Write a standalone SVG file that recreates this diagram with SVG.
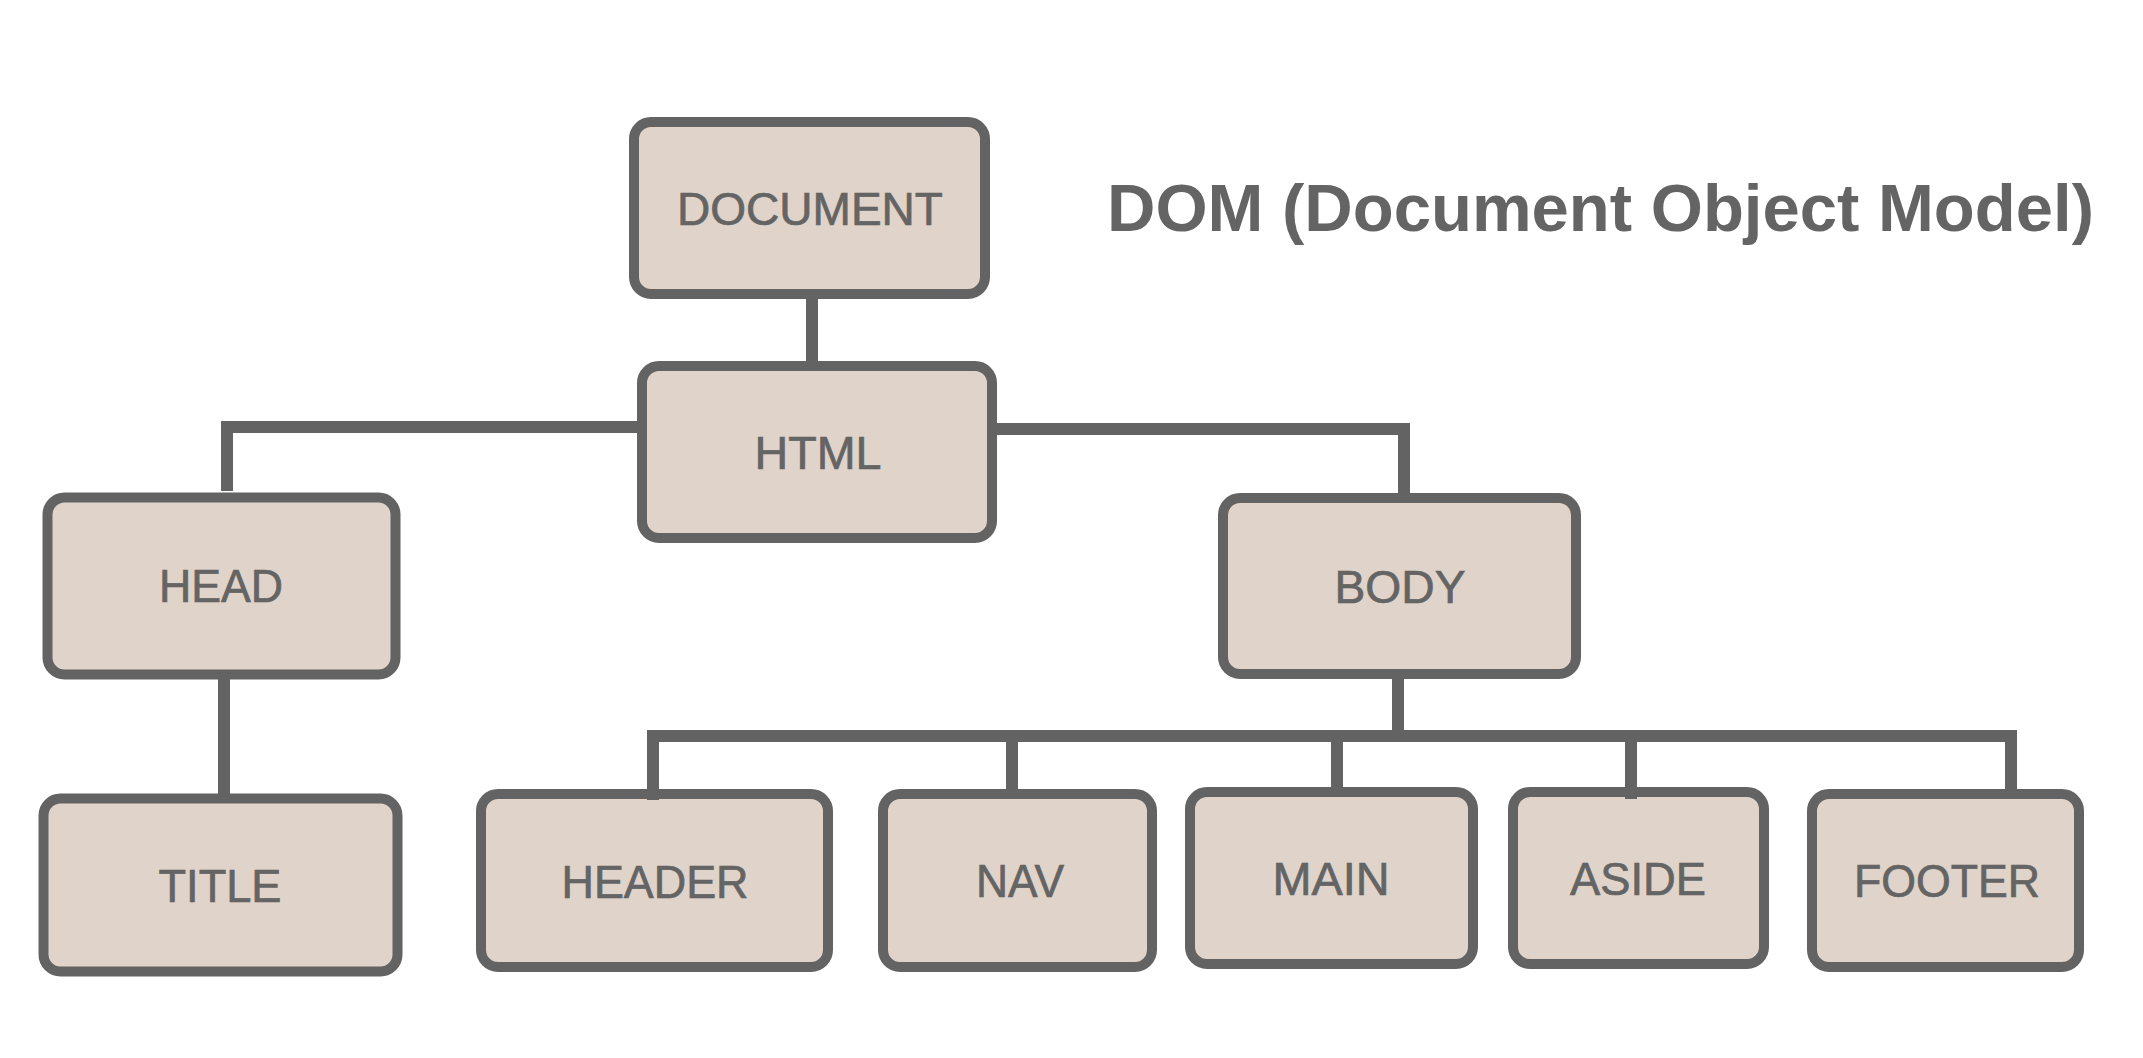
<svg xmlns="http://www.w3.org/2000/svg" width="2143" height="1058" viewBox="0 0 2143 1058">
<style>
.box{fill:#e0d3c9;stroke:#636363;stroke-width:10}
.lbl{font-family:"Liberation Sans",Arial,Helvetica,sans-serif;font-size:47px;fill:#646464;stroke:#646464;stroke-width:0.7;text-anchor:middle}
.ttl{font-family:"Liberation Sans",Arial,Helvetica,sans-serif;font-size:67px;font-weight:bold;fill:#646464}
.con{fill:none;stroke:#636363;stroke-width:12;stroke-linecap:butt;stroke-linejoin:miter}
</style>
<rect width="2143" height="1058" fill="#ffffff"/>
<g id="title"><text class="ttl" x="1107" y="231" textLength="987" lengthAdjust="spacingAndGlyphs">DOM (Document Object Model)</text></g>
<g id="node-document"><rect class="box" x="634" y="122" width="351" height="172" rx="17"/><text class="lbl" x="810" y="225" textLength="266" lengthAdjust="spacingAndGlyphs">DOCUMENT</text></g>
<g id="node-html"><rect class="box" x="642" y="366" width="350" height="172" rx="17"/><text class="lbl" x="818" y="469" textLength="127" lengthAdjust="spacingAndGlyphs">HTML</text></g>
<g id="node-head"><rect class="box" x="47.5" y="497.5" width="348" height="177" rx="17"/><text class="lbl" x="221" y="602" textLength="124" lengthAdjust="spacingAndGlyphs">HEAD</text></g>
<g id="node-title"><rect class="box" x="43.5" y="798.5" width="354" height="173" rx="17"/><text class="lbl" x="220" y="902" textLength="123" lengthAdjust="spacingAndGlyphs">TITLE</text></g>
<g id="node-body"><rect class="box" x="1223" y="498" width="353" height="176" rx="17"/><text class="lbl" x="1400" y="603" textLength="131" lengthAdjust="spacingAndGlyphs">BODY</text></g>
<g id="node-header"><rect class="box" x="481" y="794" width="347" height="173" rx="17"/><text class="lbl" x="655" y="898" textLength="187" lengthAdjust="spacingAndGlyphs">HEADER</text></g>
<g id="node-nav"><rect class="box" x="883" y="794" width="269" height="173" rx="17"/><text class="lbl" x="1020" y="897" textLength="88" lengthAdjust="spacingAndGlyphs">NAV</text></g>
<g id="node-main"><rect class="box" x="1190" y="792" width="283" height="172" rx="17"/><text class="lbl" x="1331" y="895" textLength="117" lengthAdjust="spacingAndGlyphs">MAIN</text></g>
<g id="node-aside"><rect class="box" x="1513" y="792" width="251" height="172" rx="17"/><text class="lbl" x="1638" y="895" textLength="136" lengthAdjust="spacingAndGlyphs">ASIDE</text></g>
<g id="node-footer"><rect class="box" x="1812" y="794" width="267" height="173" rx="17"/><text class="lbl" x="1947" y="897" textLength="186" lengthAdjust="spacingAndGlyphs">FOOTER</text></g>
<g id="connectors">
<path class="con" d="M812 299 V362"/>
<path class="con" d="M642 427 H227 V491"/>
<path class="con" d="M992 429 H1404 V494"/>
<path class="con" d="M224 679 V795"/>
<path class="con" d="M1398 679 V736"/>
<path class="con" d="M653 800 V736 H2011 V789"/>
<path class="con" d="M1012 736 V789"/>
<path class="con" d="M1337 736 V797"/>
<path class="con" d="M1631 736 V799"/>
</g>
</svg>
